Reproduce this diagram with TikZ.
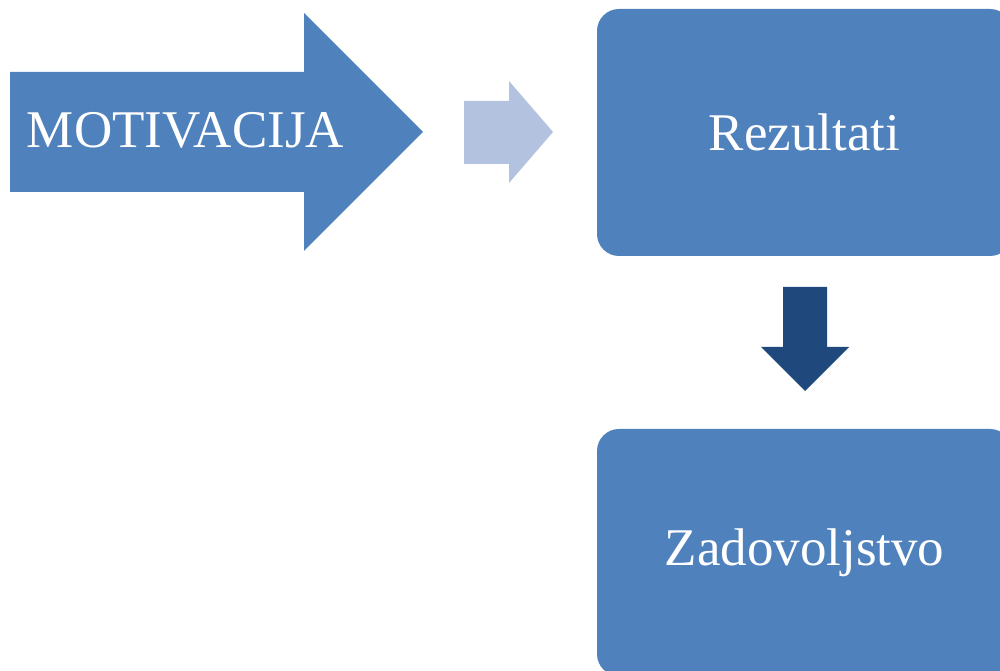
\documentclass[tikz,border=0pt]{standalone}
\usepackage{fontspec}
\setmainfont{Liberation Serif}
\usepackage{tikz}

\definecolor{blockblue}{HTML}{4F81BD}
\definecolor{lightblue}{HTML}{B3C3DF}
\definecolor{darkblue}{HTML}{1F497D}

\tikzset{
	box/.style={shape=rectangle,fill=blockblue,rounded corners=22pt,minimum width=415pt,minimum height=247pt,text=white,font=\fontsize{53}{60}\selectfont},
	label/.style={text=white,font=\fontsize{53}{60}\selectfont,inner sep=0pt}
}

\begin{document}
\begin{tikzpicture}[x=1pt,y=1pt]
	\clip (0,0) rectangle (1000,671);
	\fill [white] (0,0) rectangle (1000,671);

	\fill [blockblue] (10,599) -- (304,599) -- (304,658) -- (423,539) -- (304,420) -- (304,479) -- (10,479) -- cycle;
	\node [label,anchor=base] (M) at (185.5,523) {MOTIVACIJA};

	\fill [lightblue] (464,570) -- (509,570) -- (509,590) -- (553,539) -- (509,488) -- (509,507) -- (464,507) -- cycle;

	\node [box] (R) at (804.5,538.5) {Rezultati};
	\node [box] (Z) at (804.5,118.5) {Zadovoljstvo};

	\fill [darkblue] (783,384) -- (827,384) -- (827,324) -- (849,324) -- (805,280) -- (761,324) -- (783,324) -- cycle;
\end{tikzpicture}
\end{document}
